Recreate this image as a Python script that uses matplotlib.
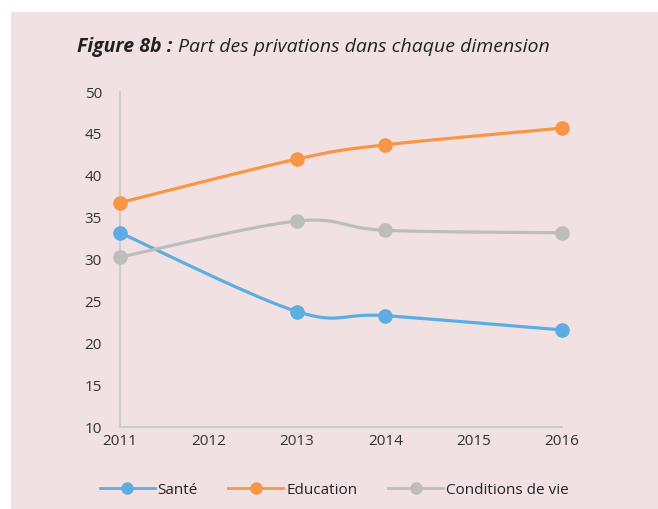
import numpy as np
import matplotlib.pyplot as plt
from matplotlib.patches import Rectangle

years = [2011, 2013, 2014, 2016]
sante = [33.2, 23.8, 23.3, 21.6]
education = [36.8, 42.0, 43.7, 45.7]
conditions = [30.3, 34.6, 33.5, 33.2]

bg = '#F2E1E3'
colors = {'Santé': '#5DADE2', 'Education': '#F79646', 'Conditions de vie': '#BDBDBD'}


def smooth(xs, ys, n=40):
    # bezier smoothing like a spreadsheet "smoothed line"
    p = np.column_stack([xs, ys]).astype(float)
    out = [p[0]]
    for i in range(len(p) - 1):
        p0 = p[i - 1] if i > 0 else p[i]
        p3 = p[i + 2] if i + 2 < len(p) else p[i + 1]
        c1 = p[i] + (p[i + 1] - p0) / 6
        c2 = p[i + 1] - (p3 - p[i]) / 6
        t = np.linspace(0, 1, n)[1:, None]
        seg = ((1 - t) ** 3) * p[i] + 3 * ((1 - t) ** 2) * t * c1 + 3 * (1 - t) * t ** 2 * c2 + t ** 3 * p[i + 1]
        out.extend(seg)
    out = np.array(out)
    return out[:, 0], out[:, 1]


plt.rcParams['font.family'] = ['Open Sans', 'DejaVu Sans']
fig = plt.figure(figsize=(6.58, 5.09), dpi=100)
fig.patch.set_facecolor('white')
fig.patches.append(Rectangle((11 / 658, 0), 1, 1 - 12 / 509, transform=fig.transFigure,
                             facecolor=bg, edgecolor='none', zorder=-10))

ax = fig.add_axes([0.1824, 0.161, 0.6717, 0.658])
ax.set_facecolor('none')

for name, vals in [('Santé', sante), ('Education', education), ('Conditions de vie', conditions)]:
    c = colors[name]
    sx, sy = smooth(years, vals)
    ax.plot(sx, sy, color=c, lw=2.3, solid_capstyle='round', zorder=2, clip_on=False)
    ax.plot(years, vals, 'o', color=c, ms=9.5, mec=c, zorder=3, clip_on=False)
    ax.plot([], [], '-o', color=c, lw=2, ms=8, label=name)

ax.set_xlim(2011, 2016)
ax.set_ylim(10, 50)
ax.set_yticks(range(10, 51, 5))
ax.set_xticks(range(2011, 2017))
for s in ['top', 'right']:
    ax.spines[s].set_visible(False)
for s in ['left', 'bottom']:
    ax.spines[s].set_color('#CCCCCC')
    ax.spines[s].set_linewidth(1.5)
ax.tick_params(length=0, labelsize=11, colors='#333333')
ax.tick_params(axis='y', pad=13)
ax.tick_params(axis='x', pad=5)

t1 = fig.text(0.117, 0.898, 'Figure 8b :', fontsize=14, fontweight='bold', style='italic', color='#222222')
fig.canvas.draw()
bb = t1.get_window_extent(fig.canvas.get_renderer())
fig.text(bb.x1 / fig.bbox.width + 0.008, 0.898, 'Part des privations dans chaque dimension',
         fontsize=14, style='italic', color='#222222')

fig.legend(loc='center', bbox_to_anchor=(0.508, 0.037), ncol=3, frameon=False, fontsize=11,
           handlelength=3.6, columnspacing=2.0, handletextpad=0.2, labelcolor='#222222')

fig.savefig('out.png', dpi=100, facecolor=fig.get_facecolor())
